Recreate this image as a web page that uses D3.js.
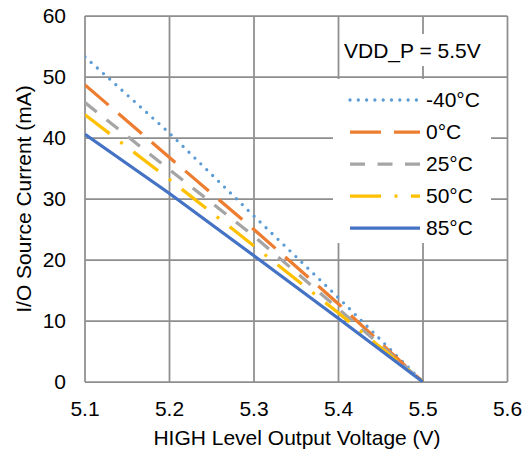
<!DOCTYPE html>
<html><head><meta charset="utf-8">
<script src="https://cdn.jsdelivr.net/npm/d3@7"></script>
<style>body{margin:0;background:#fff}svg{display:block}text{font-family:"Liberation Sans",Arial,sans-serif;fill:#000}</style>
</head><body>
<svg id="c" width="531" height="451"></svg>
<script>
const voltages = [5.1, 5.2, 5.3, 5.4, 5.5];
const seriesNames = ["-40°C", "0°C", "25°C", "50°C", "85°C"];
const vM40 = [53.3, 40.8, 27.2, 13.8, 0];
const v0 = [48.7, 36.8, 25.0, 12.8, 0];
const v25 = [45.8, 34.8, 23.9, 12.0, 0];
const v50 = [43.8, 33.2, 22.3, 11.3, 0];
const v85 = [40.6, 30.9, 20.7, 10.4, 0];
const xTicks = [5.1, 5.2, 5.3, 5.4, 5.5, 5.6];
const yTicks = [0, 10, 20, 30, 40, 50, 60];
const annotation = "VDD_P = 5.5V";
const xTitle = "HIGH Level Output Voltage (V)";
const yTitle = "I/O Source Current (mA)";

const colors = ["#5B9BD5", "#ED7D31", "#A5A5A5", "#FFC000", "#4472C4"];
const dashes = ["0,8.3", "31,13", "15,12.5", "31,13.5,3,13.5", null];
const caps = ["round", "butt", "butt", "butt", "butt"];
const allVals = [vM40, v0, v25, v50, v85];

const FS = 21;
const L = 85, R = 507.5, T = 16, B = 382;
const x = d3.scaleLinear().domain([5.1, 5.6]).range([L, R]);
const y = d3.scaleLinear().domain([0, 60]).range([B, T]);
const svg = d3.select("#c");
const grid = "#8e8e8e";

const g = svg.append("g");
g.selectAll(".vx").data(xTicks).join("line")
  .attr("x1", d => x(d)).attr("x2", d => x(d)).attr("y1", T).attr("y2", B)
  .attr("stroke", grid).attr("stroke-width", 1.75);
g.selectAll(".hy").data(yTicks).join("line")
  .attr("y1", d => y(d)).attr("y2", d => y(d)).attr("x1", L).attr("x2", R)
  .attr("stroke", grid).attr("stroke-width", 1.75);

svg.append("g").selectAll("text").data(xTicks).join("text")
  .attr("x", d => x(d)).attr("y", 416).attr("text-anchor", "middle")
  .attr("font-size", FS).text(d => d.toFixed(1));
svg.append("g").selectAll("text").data(yTicks).join("text")
  .attr("x", 66).attr("y", d => y(d)).attr("dy", "0.35em").attr("text-anchor", "end")
  .attr("font-size", FS).text(d => d);

svg.append("text").attr("x", 297).attr("y", 445).attr("text-anchor", "middle")
  .attr("font-size", FS).text(xTitle);
svg.append("text").attr("transform", `translate(31,${(T + B) / 2}) rotate(-90)`)
  .attr("text-anchor", "middle").attr("font-size", FS).text(yTitle);

svg.append("clipPath").attr("id", "pc").append("rect")
  .attr("x", L).attr("y", T).attr("width", R - L).attr("height", B - T);

const line = d3.line().x(d => x(d[0])).y(d => y(d[1]));
const lg = svg.append("g").attr("clip-path", "url(#pc)");
allVals.forEach((vals, i) => {
  lg.append("path").datum(voltages.map((v, j) => [v, vals[j]]))
    .attr("d", line).attr("fill", "none").attr("stroke", colors[i])
    .attr("stroke-width", i === 0 ? 3.3 : 3.25)
    .attr("stroke-linecap", caps[i])
    .attr("stroke-dasharray", dashes[i]);
});

// annotation box
svg.append("rect").attr("x", 342).attr("y", 34).attr("width", 146).attr("height", 32).attr("fill", "#fff");
svg.append("text").attr("x", 344).attr("y", 51).attr("dy", "0.35em").attr("font-size", FS).text(annotation);

// legend
svg.append("rect").attr("x", 333).attr("y", 79).attr("width", 158).attr("height", 164).attr("fill", "#fff");
const leg = svg.append("g");
seriesNames.forEach((n, i) => {
  const yy = 100 + i * 32;
  leg.append("line").attr("x1", 350).attr("x2", 420).attr("y1", yy).attr("y2", yy)
    .attr("stroke", colors[i]).attr("stroke-width", i === 0 ? 3.3 : 3.25)
    .attr("stroke-linecap", caps[i]).attr("stroke-dasharray", dashes[i]);
  leg.append("text").attr("x", 426).attr("y", yy).attr("dy", "0.35em").attr("font-size", FS).text(n);
});
</script>
</body></html>
